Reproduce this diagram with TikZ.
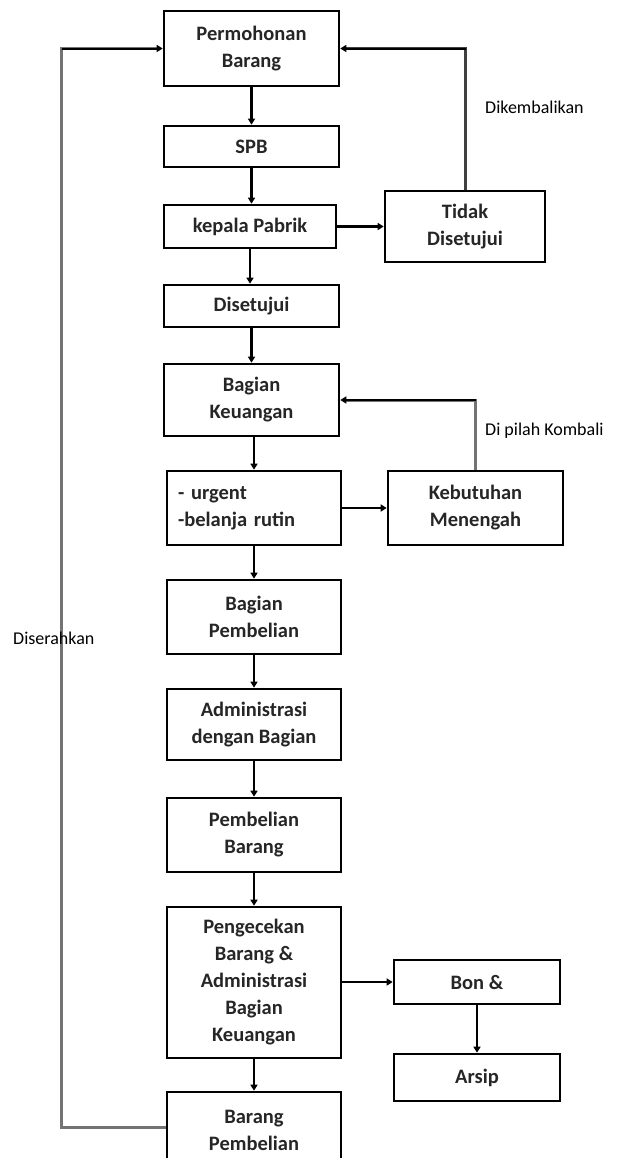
\documentclass[tikz,border=0pt]{standalone}
\usepackage{fontspec}
\setmainfont{Carlito}
\usetikzlibrary{arrows.meta,calc}
\begin{document}
\begin{tikzpicture}[x=1pt,y=-1pt,
  box/.style={draw=black,line width=2.6pt,inner sep=0pt,align=center,
    font=\bfseries\fontsize{20.5}{27}\selectfont,text=black!85},
  arr/.style={line width=2.4pt,-{Triangle[length=6pt,width=7pt]}},
  loop/.style={line width=3pt,draw=black!55,-{Triangle[length=6pt,width=7pt,color=black]}},
  lbl/.style={font=\fontsize{18}{20}\selectfont,anchor=west,inner sep=0pt}]
\useasboundingbox[fill=white] (0,0) rectangle (629,1158);
\node[box,minimum width=175pt,minimum height=75pt] (perm) at (251.5,48.5) {Permohonan\\Barang};
\node[box,minimum width=175pt,minimum height=41pt] (spb) at (251.5,146.5) {SPB};
\node[box,minimum width=172pt,minimum height=43pt] (kep) at (250,226.5) {kepala Pabrik};
\node[box,minimum width=160pt,minimum height=71pt] (tidak) at (465,226.5) {Tidak\\Disetujui};
\node[box,minimum width=175pt,minimum height=42pt] (dis) at (251.5,306) {Disetujui};
\node[box,minimum width=175pt,minimum height=72pt] (keu) at (251.5,400) {Bagian\\Keuangan};
\node[box,align=left,text width=152pt,inner xsep=11pt,minimum height=74pt] (urg) at (254,508) {- urgent\\-belanja rutin};
\node[box,minimum width=175pt,minimum height=74pt] (keb) at (475.5,508) {Kebutuhan\\Menengah};
\node[box,minimum width=174pt,minimum height=74pt] (pemb) at (254,617) {Bagian\\Pembelian};
\node[box,minimum width=174pt,minimum height=71pt] (adm) at (254,724.5) {Administrasi\\dengan Bagian};
\node[box,minimum width=174pt,minimum height=74pt] (pbar) at (254,835) {Pembelian\\Barang};
\node[box,minimum width=174pt,minimum height=151pt] (peng) at (254,982.5) {Pengecekan\\Barang \&\\Administrasi\\Bagian\\Keuangan};
\node[box,minimum width=166pt,minimum height=44pt] (bon) at (477,982) {Bon \&};
\node[box,minimum width=166pt,minimum height=47pt] (arsip) at (477,1077.5) {Arsip};
\node[box,minimum width=174pt,minimum height=76pt] (bp) at (254,1130) {Barang\\Pembelian};

\draw[arr] (perm.south) -- (perm.south |- spb.north);
\draw[arr] (spb.south) -- (spb.south |- kep.north);
\draw[arr] (kep.south) -- (kep.south |- dis.north);
\draw[arr] (kep.east) -- (tidak.west);
\draw[arr] (dis.south) -- (dis.south |- keu.north);
\draw[arr] (keu.south -| urg.north) -- (urg.north);
\draw[arr] (urg.east) -- (keb.west);
\draw[arr] (urg.south) -- (pemb.north);
\draw[arr] (pemb.south) -- (adm.north);
\draw[arr] (adm.south) -- (pbar.north);
\draw[arr] (pbar.south) -- (peng.north);
\draw[arr] (peng.south) -- (bp.north);
\draw[arr] (peng.east |- bon.west) -- (bon.west);
\draw[arr] (bon.south) -- (arsip.north);

\draw[loop,draw=black!75] (tidak.north) |- (perm.east);
\draw[loop] (keb.north) |- (keu.east);
\coordinate (bpout) at ($(bp.west)+(0,-3)$);
\draw[loop] (bpout) -- ++(-104,0) |- (perm.west);
\draw[line width=2.4pt] (466,49) -- (346,49);
\draw[line width=2.4pt] (476,400) -- (346,400);
\draw[line width=2.4pt] (62,49) -- (157,49);

\node[lbl] (l1) at (485,107) {Dikembalikan};
\node[lbl] (l2) at (485,431) {Di pilah Kombali};
\node[lbl] (l3) at (13,638) {Diserahkan};
\end{tikzpicture}
\end{document}
